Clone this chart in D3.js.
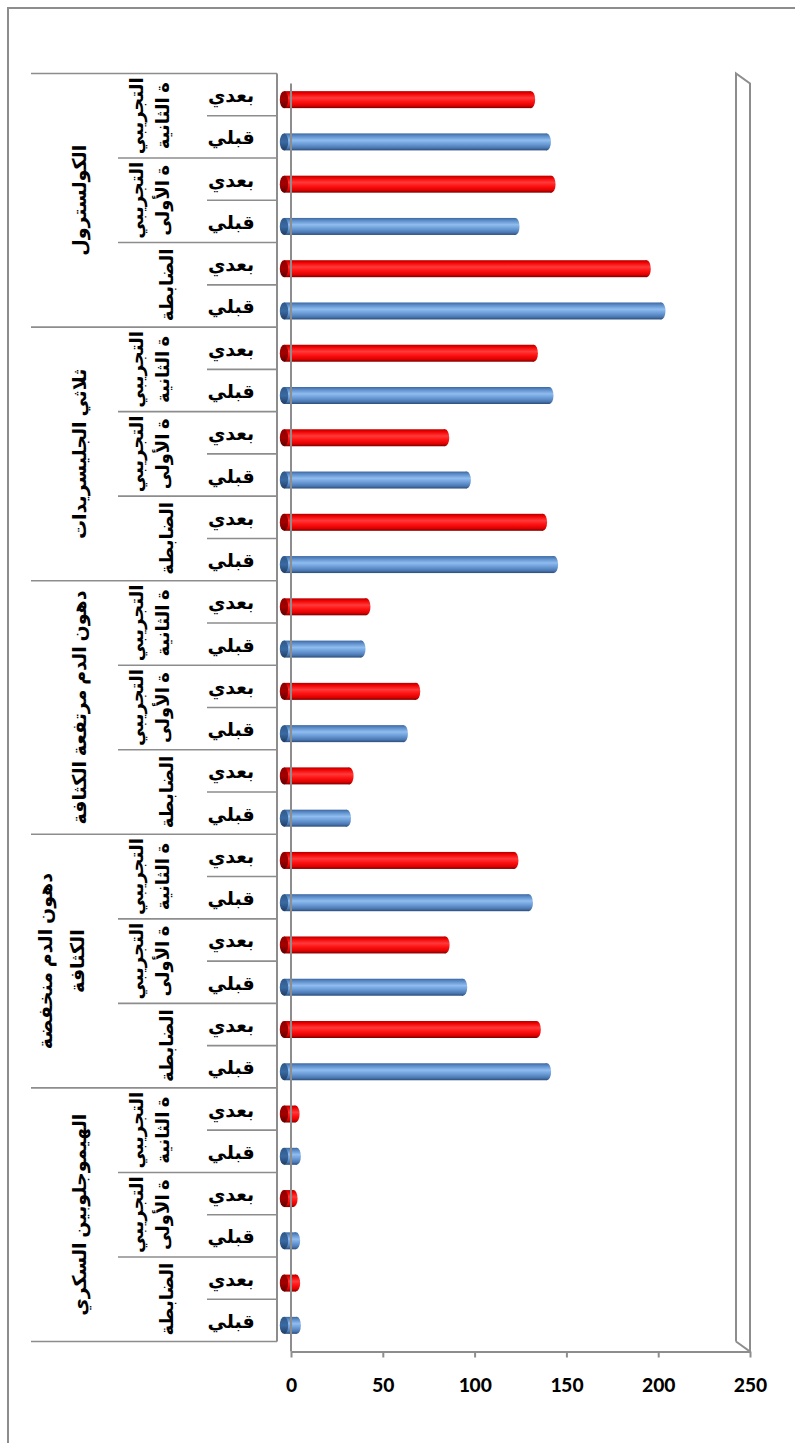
<!DOCTYPE html>
<html>
<head>
<meta charset="utf-8">
<script src="https://cdn.jsdelivr.net/npm/d3@7"></script>
<style>
  html, body { margin: 0; padding: 0; background: #fff; }
  svg { display: block; }
</style>
</head>
<body>
<svg id="chart" width="795" height="1443"></svg>
<script>
// Indicators, listed top to bottom
const measures = [
  "الكولسترول",
  "ثلاثي الجليسريدات",
  "دهون الدم مرتفعة الكثافة",
  "دهون الدم منخفضة الكثافة",
  "الهيموجلوبين السكري"
];
// How each indicator name wraps inside its cell
const measureLines = [
  ["الكولسترول"],
  ["ثلاثي الجليسريدات"],
  ["دهون الدم مرتفعة الكثافة"],
  ["دهون الدم منخفضة", "الكثافة"],
  ["الهيموجلوبين السكري"]
];
// Study groups inside every indicator, top to bottom
const groups = ["التجريبية الثانية", "التجريبية الأولى", "الضابطة"];
const groupLines = [["التجريبي", "ة الثانية"], ["التجريبي", "ة الأولى"], ["الضابطة"]];
// Measurement phases inside every group, top to bottom
const phases = ["بعدي", "قبلي"];
const valueTicks = [0, 50, 100, 150, 200, 250];

// Means per indicator (rows) and group (columns)
const preValues = [
  [143.1, 126.0, 205.5],
  [144.5, 99.5, 147.0],
  [42.1, 65.2, 34.2],
  [133.3, 97.5, 143.2],
  [6.9, 6.5, 6.9]
];
const postValues = [
  [134.5, 145.6, 197.5],
  [136.0, 87.7, 141.0],
  [44.8, 71.9, 35.6],
  [125.4, 87.9, 137.6],
  [6.2, 5.1, 6.5]
];

// Flatten into one row per bar
const rows = [];
measures.forEach((m, mi) => {
  groups.forEach((g, gi) => {
    phases.forEach((p, pi) => {
      rows.push({
        key: mi + "|" + gi + "|" + pi,
        measure: mi, group: gi, phase: p,
        value: p === "بعدي" ? postValues[mi][gi] : preValues[mi][gi]
      });
    });
  });
});

const svg = d3.select("#chart");
const grey = "#8d8d8d";

// 3-D depth: the back plane sits up and to the left of the front plane
const depthX = -14, depthY = -10;
const x = d3.scaleLinear().domain([0, 250]).range([291, 750]);
const y = d3.scaleBand().domain(rows.map(r => r.key)).range([83.5, 1351.5]);
const bw = y.bandwidth();
const yTop = y.range()[0], yBot = y.range()[1];
const barH = 17;

// Gradients that shade the cylinders
const defs = svg.append("defs");
function gradient(id, stops) {
  const g = defs.append("linearGradient").attr("id", id)
    .attr("x1", 0).attr("y1", 0).attr("x2", 0).attr("y2", 1);
  stops.forEach(([o, c]) => g.append("stop").attr("offset", o).attr("stop-color", c));
}
gradient("blueBody", [[0, "#3d68a0"], [0.14, "#5a8ac6"], [0.4, "#8fbdf0"], [0.62, "#6d9dd8"], [0.86, "#4a77b0"], [1, "#2b4c7a"]]);
gradient("redBody", [[0, "#b00000"], [0.14, "#f20000"], [0.4, "#ff3a3a"], [0.62, "#ff1212"], [0.86, "#dd0000"], [1, "#780000"]]);
gradient("blueCap", [[0, "#2f5888"], [0.5, "#3a6aa3"], [1, "#1f3d63"]]);
gradient("redCap", [[0, "#8c0000"], [0.5, "#a50000"], [1, "#5e0000"]]);

// Outer frame
svg.append("rect")
  .attr("x", 8).attr("y", 8).attr("width", 820).attr("height", 1470)
  .attr("fill", "none").attr("stroke", grey).attr("stroke-width", 2);

// Category axis on the back plane
const catX = x(0) + depthX;
const catG = svg.append("g").attr("stroke", grey).attr("fill", "none");
catG.append("line")
  .attr("x1", catX).attr("x2", catX)
  .attr("y1", yTop + depthY).attr("y2", yBot + depthY)
  .attr("stroke-width", 2);
d3.range(rows.length + 1).forEach(i => {
  const yy = yTop + i * bw + depthY;
  const left = i % 6 === 0 ? 31 : (i % 2 === 0 ? 118 : 207);
  catG.append("line")
    .attr("x1", left).attr("x2", catX)
    .attr("y1", yy).attr("y2", yy)
    .attr("stroke-width", 1.6);
});

// Side panel at the far end of the value axis
const wallG = svg.append("g").attr("stroke", grey).attr("stroke-width", 2).attr("fill", "none");
const xb = x(250) + depthX, xf = x(250);
wallG.append("path").attr("d",
  `M${xb},${yBot + depthY} L${xb},${yTop + depthY} L${xf},${yTop} L${xf},${yBot} L${xb},${yBot + depthY}`);

// Cylinders, drawn halfway into the depth
const midX = depthX / 2, midY = depthY / 2;
const bars = svg.append("g").selectAll("g.bar").data(rows).join("g").attr("class", "bar");
bars.each(function (d) {
  const g = d3.select(this);
  const cy = y(d.key) + bw / 2 + midY;
  const x0 = x(0) + midX, x1 = x(d.value) + midX;
  const blue = d.phase === "قبلي";
  const body = blue ? "url(#blueBody)" : "url(#redBody)";
  const cap = blue ? "url(#blueCap)" : "url(#redCap)";
  g.append("rect")
    .attr("x", x0).attr("y", cy - barH / 2)
    .attr("width", Math.max(0, x1 - x0)).attr("height", barH)
    .attr("fill", body);
  g.append("ellipse")
    .attr("cx", x1).attr("cy", cy).attr("rx", 4.2).attr("ry", barH / 2)
    .attr("fill", body);
  g.append("ellipse")
    .attr("cx", x0).attr("cy", cy).attr("rx", 4.2).attr("ry", barH / 2)
    .attr("fill", cap);
});

// Front edge of the floor at zero, over the cylinders
svg.append("line")
  .attr("x1", x(0)).attr("x2", x(0))
  .attr("y1", yTop).attr("y2", yBot)
  .attr("stroke", grey).attr("stroke-width", 2);

// Value axis
const xAxis = svg.append("g")
  .attr("transform", `translate(0,${yBot})`)
  .call(d3.axisBottom(x).tickValues(valueTicks).tickSize(6).tickSizeOuter(0).tickPadding(19));
xAxis.select(".domain").attr("stroke", grey).attr("stroke-width", 2);
xAxis.selectAll(".tick line").attr("stroke", grey).attr("stroke-width", 2);
xAxis.selectAll(".tick text")
  .attr("fill", "#000")
  .style("font-family", "Carlito, 'Liberation Sans', Arial, sans-serif")
  .style("font-weight", "bold")
  .style("font-size", "22px");

// Category labels
const arabicFont = "'Times New Roman', 'DejaVu Sans', sans-serif";
const labels = svg.append("g")
  .style("font-family", arabicFont)
  .style("font-weight", "bold")
  .attr("fill", "#000");

// Phase labels, horizontal
labels.selectAll("text.phase").data(rows).join("text")
  .attr("class", "phase")
  .attr("x", 231)
  .attr("y", d => y(d.key) + bw / 2 + depthY + 1)
  .attr("text-anchor", "middle")
  .attr("dominant-baseline", "central")
  .attr("direction", "rtl")
  .style("font-size", "19px")
  .text(d => d.phase);

// Rotated multi-line label helper
function rotatedLabel(cx, cy, lines, pitch, size) {
  const t = labels.append("text")
    .attr("transform", `translate(${cx},${cy}) rotate(-90)`)
    .attr("text-anchor", "middle")
    .attr("dominant-baseline", "central")
    .attr("direction", "rtl")
    .style("font-size", size + "px");
  lines.forEach((ln, i) => {
    t.append("tspan")
      .attr("x", 0)
      .attr("y", (i - (lines.length - 1) / 2) * pitch)
      .text(ln);
  });
}

// Group labels
measures.forEach((m, mi) => {
  groups.forEach((g, gi) => {
    const first = (mi * 3 + gi) * 2;
    const cy = yTop + (first + 1) * bw + depthY;
    const lines = groupLines[gi];
    const cx = lines.length > 1 ? 150 : 167;
    rotatedLabel(cx, cy, lines, 26, 18);
  });
});

// Indicator labels
measures.forEach((m, mi) => {
  const cy = yTop + (mi * 6 + 3) * bw + depthY;
  const lines = measureLines[mi];
  const cx = lines.length > 1 ? 61 : 79;
  rotatedLabel(cx, cy, lines, 32, 19);
});
</script>
</body>
</html>
